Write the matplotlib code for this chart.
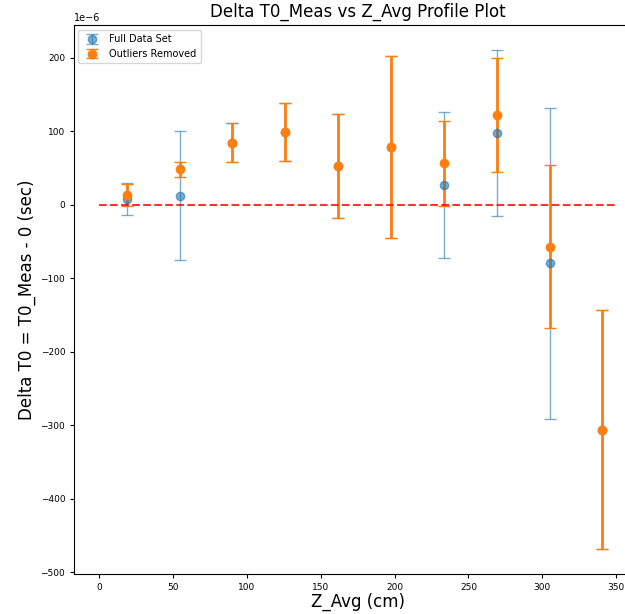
import numpy as np
import matplotlib
matplotlib.use('Agg')
import matplotlib.pyplot as plt

# bin centres (cm)
z_avg = [18.5, 54.3, 90.1, 125.9, 161.7, 197.5, 233.3, 269.1, 304.9, 340.7]

# full data set (units of 1e-6 s)
full_mean = [7.5, 12, 84, 99, 53, 78, 27, 97, -80, -306]
full_err = [22, 88, 26.5, 39, 71, 124, 99, 113, 211, 163]

# outliers removed (units of 1e-6 s)
clean_mean = [13, 48, 84, 99, 53, 78, 56, 122, -57, -306]
clean_err = [15, 10, 26.5, 39, 71, 124, 58, 77, 111, 163]

scale = 1e-6

fig = plt.figure(figsize=(6.25, 6.14), dpi=100)
# the original picture is cropped on the right, so the axes runs off the edge
ax = fig.add_axes([0.1176, 0.0647, 0.9096, 0.894])

ax.errorbar(z_avg, np.array(full_mean)*scale, yerr=np.array(full_err)*scale,
            fmt='o', color='tab:blue', alpha=0.6, capsize=4, elinewidth=1,
            markersize=6, label='Full Data Set')
ax.errorbar(z_avg, np.array(clean_mean)*scale, yerr=np.array(clean_err)*scale,
            fmt='o', color='tab:orange', capsize=4, elinewidth=2,
            markersize=6, label='Outliers Removed')
ax.hlines(0, 0, 350, colors='red', linestyles='--', alpha=0.8)

ax.set_xticks([0, 50, 100, 150, 200, 250, 300, 350])
ax.ticklabel_format(axis='y', style='sci', scilimits=(-6, -6))
ax.tick_params(labelsize=6.5, length=3, pad=3)
ax.yaxis.get_offset_text().set_fontsize(7)

ax.set_title('Delta T0_Meas vs Z_Avg Profile Plot', fontsize=12)
ax.set_xlabel('Z_Avg (cm)', fontsize=12, labelpad=1)
ax.set_ylabel('Delta T0 = T0_Meas - 0 (sec)', fontsize=12, labelpad=3.5)
ax.legend(loc='upper left', fontsize=7)

plt.savefig('out.png', dpi=100)
